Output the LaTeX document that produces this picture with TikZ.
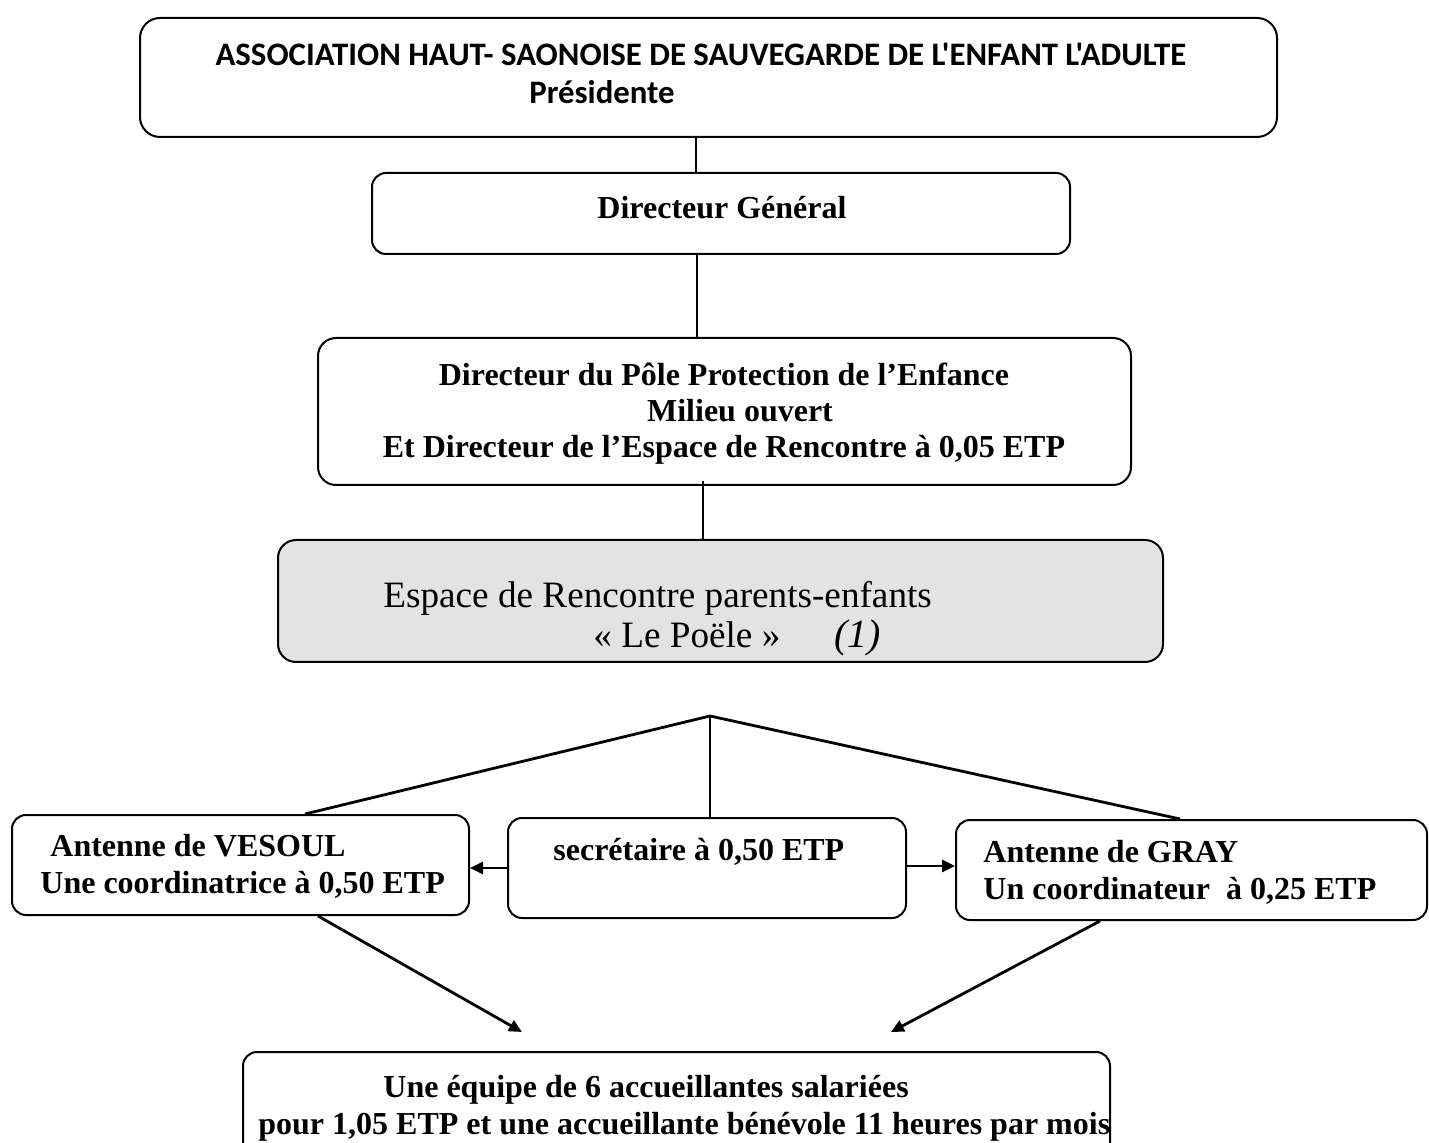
\documentclass[tikz,border=0pt]{standalone}
\usepackage{fontspec}
\setmainfont{Liberation Serif}
\newfontfamily\calib{Carlito}
\usetikzlibrary{arrows.meta}
\begin{document}
\begin{tikzpicture}[x=0.5pt,y=-0.5pt,
  box/.style={draw,line width=1pt,rounded corners=7pt,inner sep=0pt},
  txt/.style={inner sep=0pt,font=\fontsize{16}{18}\selectfont\bfseries},
  sanstxt/.style={inner sep=0pt,font=\calib\fontsize{16.4}{18}\selectfont\bfseries},
  link/.style={line width=1.4pt},
  thin/.style={line width=0.7pt},
  arr/.style={line width=1.4pt,-{Triangle[length=6.5pt,width=6pt]}}]
\useasboundingbox (0,0) rectangle (1429,1143);
\clip (0,0) rectangle (1429,1143);
% boxes
\node[box,rounded corners=10pt,minimum width=568.5pt,minimum height=59.5pt] (top) at (708.5,77.5) {};
\node[box,minimum width=349pt,minimum height=40.5pt] (dg) at (721,213.5) {};
\node[box,rounded corners=9pt,minimum width=406.5pt,minimum height=73.5pt] (pole) at (724.5,411.5) {};
\node[box,rounded corners=9pt,fill=gray!22,minimum width=442.5pt,minimum height=61pt] (esp) at (720.5,601) {};
\node[box,minimum width=228.5pt,minimum height=50pt] (ves) at (240.5,865) {};
\node[box,minimum width=199pt,minimum height=50pt] (sec) at (707,868) {};
\node[box,minimum width=235.5pt,minimum height=50pt] (gray) at (1191.5,870) {};
\node[box,minimum width=433.5pt,minimum height=59pt] (bot) at (676.5,1111) {};
% texts
\node[sanstxt,anchor=base] (t1) at (701,66) {ASSOCIATION HAUT- SAONOISE DE SAUVEGARDE DE L'ENFANT L'ADULTE};
\node[sanstxt,anchor=base west] (t2) at (529,104) {Présidente};
\node[txt,anchor=base] (t3) at (722,219) {Directeur Général};
\node[txt,anchor=base] (t4) at (724,386) {Directeur du Pôle Protection de l’Enfance};
\node[txt,anchor=base] (t5) at (740,422) {Milieu ouvert};
\node[txt,anchor=base] (t6) at (724,458) {Et Directeur de l’Espace de Rencontre à 0,05 ETP};
\node[txt,font=\fontsize{18.6}{22}\selectfont,anchor=base west] (t7) at (383,608) {Espace de Rencontre parents-enfants};
\node[txt,font=\fontsize{18.6}{22}\selectfont,anchor=base west] (t8) at (593,648) {« Le Poële »\hspace{1.45em}{\fontsize{20}{22}\selectfont\textit{(1)}}};
\node[txt,anchor=base west] (t9) at (50,856) {Antenne de VESOUL};
\node[txt,anchor=base west] (t10) at (40,893) {Une coordinatrice à 0,50 ETP};
\node[txt,anchor=base west] (t11) at (553,860) {secrétaire à 0,50 ETP};
\node[txt,anchor=base west] (t12) at (983,862) {Antenne de GRAY};
\node[txt,anchor=base west] (t13) at (983,899) {Un coordinateur\ \ à 0,25 ETP};
\node[txt,anchor=base west] (t14) at (383,1097) {Une équipe de 6 accueillantes salariées};
\node[txt,anchor=base west] (t15) at (258,1134) {pour 1,05 ETP et une accueillante bénévole 11 heures par mois};
% coordinates
\coordinate (c1) at (696,0);
\coordinate (c2) at (697,0);
\coordinate (c3) at (703,0);
\coordinate (apex) at (710,716);
\coordinate (cv) at (305,0);
\coordinate (cs) at (710,0);
\coordinate (cg) at (1180,0);
\coordinate (ya) at (0,868);
\coordinate (yb) at (0,866);
\coordinate (cvb) at (318,0);
\coordinate (cgb) at (1100,0);
\coordinate (a1) at (522,1032);
\coordinate (a2) at (891,1032);
% connectors
\draw[thin] (top.south -| c1) -- (dg.north -| c1);
\draw[thin] (dg.south -| c2) -- (pole.north -| c2);
\draw[thin] ([yshift=2.5pt]pole.south -| c3) -- (esp.north -| c3);
\draw[link] (apex) -- (ves.north -| cv);
\draw[thin] (apex) -- (sec.north -| cs);
\draw[link] (apex) -- (gray.north -| cg);
\draw[arr] (sec.west |- ya) -- (ves.east |- ya);
\draw[arr] (sec.east |- yb) -- (gray.west |- yb);
\draw[arr] (ves.south -| cvb) -- (a1);
\draw[arr] (gray.south -| cgb) -- (a2);
\end{tikzpicture}
\end{document}
